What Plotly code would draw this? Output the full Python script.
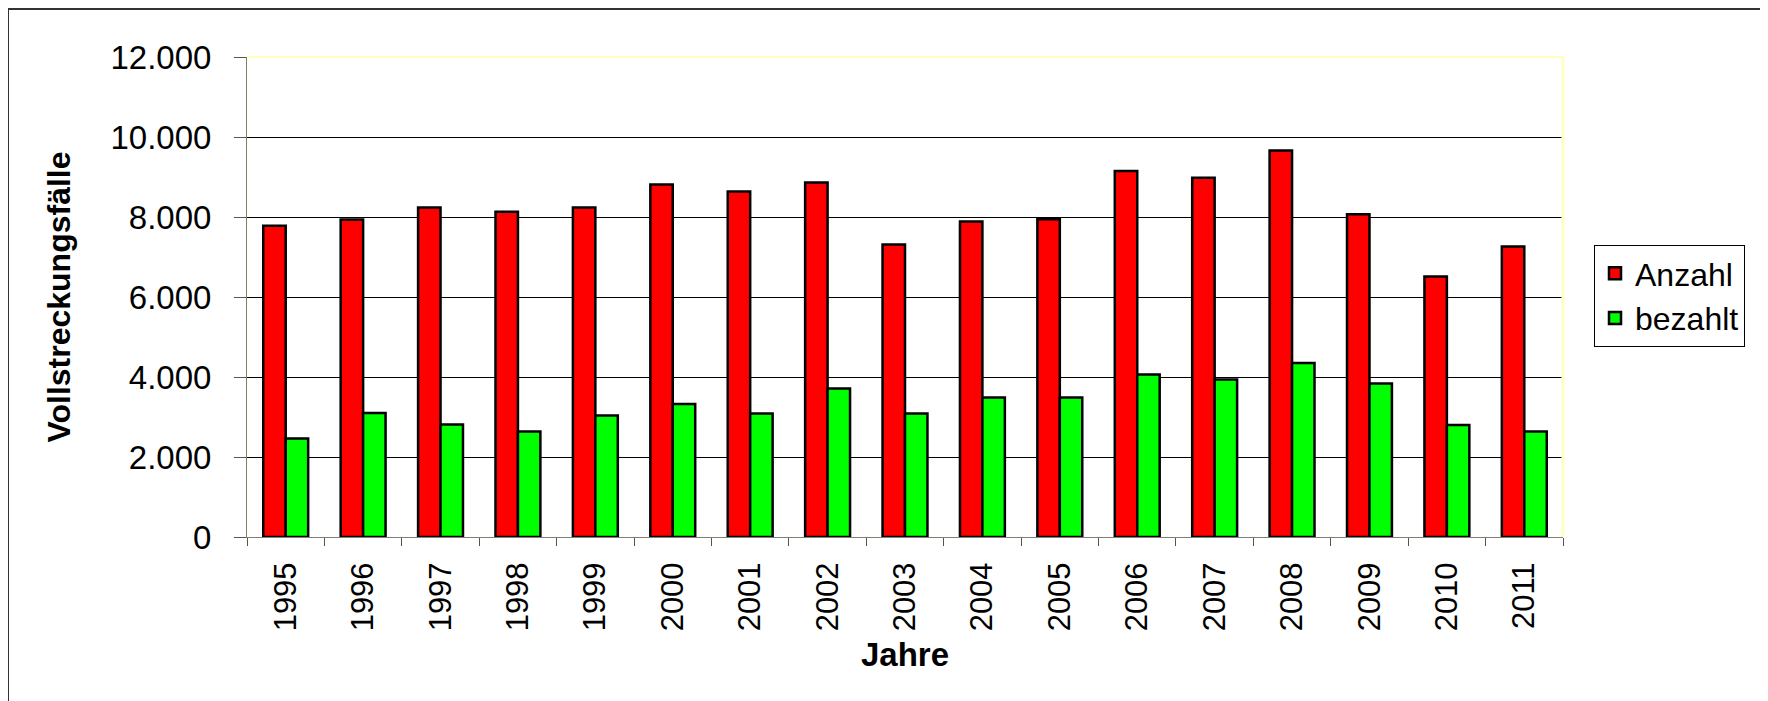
import plotly.graph_objects as go

years = ["1995", "1996", "1997", "1998", "1999", "2000", "2001", "2002", "2003",
         "2004", "2005", "2006", "2007", "2008", "2009", "2010", "2011"]
anzahl = [7780, 7935, 8235, 8130, 8235, 8815, 8640, 8865, 7315,
          7890, 7945, 9150, 8980, 9665, 8070, 6510, 7265]
bezahlt = [2460, 3100, 2810, 2640, 3035, 3325, 3090, 3715, 3090,
           3490, 3490, 4065, 3940, 4350, 3835, 2800, 2640]
y_ticks = [0, 2000, 4000, 6000, 8000, 10000, 12000]

FONT = "Liberation Sans, Arial, sans-serif"

# plot area in page pixels; the page body adds an 8px offset
OFF = 8
L, R, T, B = 247 - OFF, 1563 - OFF, 57 - OFF, 537 - OFF
W, H = 1768, 701


def px_x(p):
    return (p - OFF - L) / (R - L)


def px_y(p):
    return (B - (p - OFF)) / (B - T)


fig = go.Figure()
fig.add_trace(go.Bar(x=years, y=anzahl, name="Anzahl", legendgroup="a",
                     marker=dict(color="#FF0000", line=dict(color="black", width=2.5))))
fig.add_trace(go.Bar(x=years, y=bezahlt, name="bezahlt", legendgroup="b",
                     marker=dict(color="#00FF00", line=dict(color="black", width=2.5))))

fig.update_layout(
    width=W, height=H,
    margin=dict(l=L, r=W - R, t=T, b=H - B, autoexpand=False),
    paper_bgcolor="white", plot_bgcolor="white",
    separators=",.",
    barmode="group", bargap=0.42, bargroupgap=0,
    font=dict(family=FONT, color="black"),
    legend=dict(x=px_x(1594), y=px_y(296), xanchor="left", yanchor="middle",
                bordercolor="black", borderwidth=1, bgcolor="white",
                font=dict(size=32, family=FONT), tracegroupgap=0),
    showlegend=True,
)

fig.update_xaxes(
    type="category", tickangle=-90, tickson="boundaries",
    ticks="outside", ticklen=8, tickcolor="#555",
    showline=True, linecolor="#808070", linewidth=1,
    tickfont=dict(size=31, family=FONT), ticklabelstandoff=12,
    title=dict(text="<b>Jahre</b>", font=dict(size=33, family=FONT), standoff=12),
    showgrid=False,
)
fig.update_yaxes(
    range=[0, 12000], tickvals=y_ticks, tickformat=",.0f",
    ticks="outside", ticklen=12, tickcolor="#555",
    showline=True, linecolor="#808060", linewidth=1,
    showgrid=True, gridcolor="black", gridwidth=1, zeroline=False,
    tickfont=dict(size=33, family=FONT), ticklabelstandoff=16,
    title=dict(text="<b>Vollstreckungsfälle</b>", font=dict(size=32, family=FONT), standoff=30),
)

# pale yellow top and right border of the plot area
fig.add_shape(type="line", xref="paper", yref="paper", x0=0, x1=1, y0=1, y1=1,
              line=dict(color="#FFFFC0", width=2), layer="above")
fig.add_shape(type="line", xref="paper", yref="paper", x0=1, x1=1, y0=0, y1=1,
              line=dict(color="#FFFFC0", width=3), layer="above")

# outer chart frame (top and left edge)
fig.add_shape(type="line", xref="paper", yref="paper",
              x0=px_x(8), x1=px_x(W + 20), y0=px_y(9), y1=px_y(9),
              line=dict(color="#333", width=2), layer="above")
fig.add_shape(type="line", xref="paper", yref="paper",
              x0=px_x(8), x1=px_x(8), y0=px_y(9), y1=px_y(H + 20),
              line=dict(color="#333", width=2), layer="above")

fig.write_html("out.html")
